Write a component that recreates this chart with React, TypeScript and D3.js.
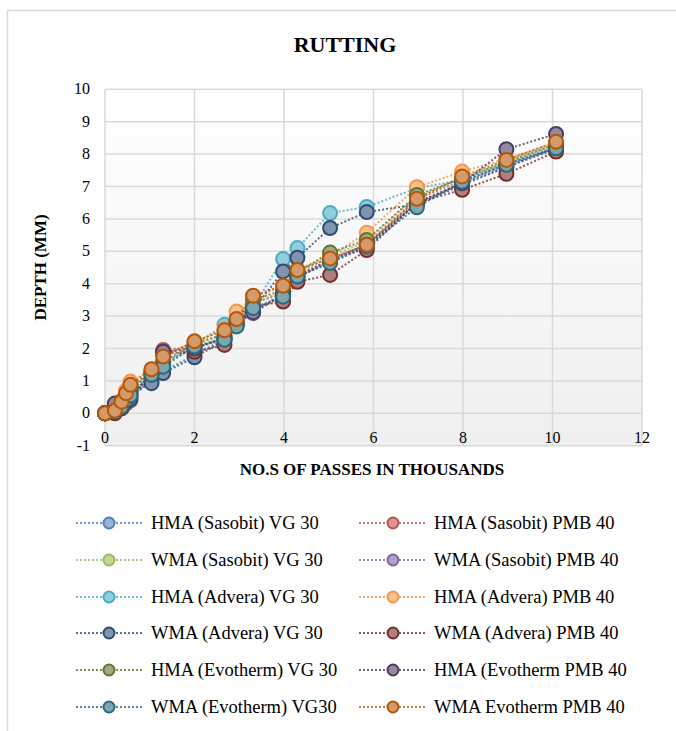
import React from "react";
import * as d3 from "d3";

const xValues = [0, 0.22, 0.37, 0.47, 0.57, 1.04, 1.3, 2, 2.67, 2.94, 3.31, 3.98, 4.3, 5.03, 5.85, 6.97, 7.98, 8.97, 10.08];

const seriesNames = [
  "HMA (Sasobit) VG 30",
  "HMA (Sasobit) PMB 40",
  "WMA (Sasobit) VG 30",
  "WMA (Sasobit) PMB 40",
  "HMA (Advera) VG 30",
  "HMA (Advera) PMB 40",
  "WMA (Advera) VG 30",
  "WMA (Advera) PMB 40",
  "HMA (Evotherm) VG 30",
  "HMA (Evotherm PMB 40",
  "WMA (Evotherm) VG30",
  "WMA Evotherm PMB 40",
];

const seriesColors = [
  "#4f81bd", "#c0504d", "#9bbb59", "#8064a2", "#4bacc6", "#f79646",
  "#2c4d75", "#772c2a", "#5f7530", "#4d3b62", "#276a7c", "#b65708",
];

const hmaSasobitVG30 = [0, 0.1, 0.25, 0.45, 0.65, 1.0, 1.3, 1.8, 2.3, 2.7, 3.2, 3.6, 4.2, 4.7, 5.15, 6.5, 7.1, 7.6, 8.15];
const hmaSasobitPMB40 = [0, 0.05, 0.3, 0.55, 0.8, 1.3, 1.95, 2.05, 2.3, 2.8, 3.4, 3.7, 4.2, 4.7, 5.2, 6.6, 7.2, 7.7, 8.2];
const wmaSasobitVG30 = [0, 0.1, 0.3, 0.5, 0.75, 1.25, 1.5, 2.1, 2.4, 2.8, 3.4, 3.75, 4.3, 4.85, 5.3, 6.7, 7.2, 7.8, 8.3];
const wmaSasobitPMB40 = [0, 0.25, 0.2, 0.3, 0.4, 1.1, 1.6, 2.0, 2.3, 2.75, 3.09, 3.65, 4.2, 4.7, 5.1, 6.5, 7.1, 7.7, 8.2];
const hmaAdveraVG30 = [0, 0.15, 0.3, 0.5, 0.7, 1.2, 1.5, 2.1, 2.73, 2.8, 3.3, 4.76, 5.1, 6.18, 6.37, 6.95, 7.2, 7.7, 8.25];
const hmaAdveraPMB40 = [0, 0.1, 0.4, 0.7, 0.98, 1.35, 1.8, 2.2, 2.6, 3.14, 3.6, 3.9, 4.45, 4.85, 5.57, 6.98, 7.46, 7.85, 8.35];
const wmaAdveraVG30 = [0, 0.2, 0.25, 0.4, 0.6, 0.93, 1.24, 1.73, 2.25, 2.75, 3.2, 4.38, 4.8, 5.72, 6.21, 6.45, 7.05, 7.6, 8.2];
const wmaAdveraPMB40 = [0, 0, 0.15, 0.35, 0.55, 1.2, 1.85, 1.9, 2.11, 2.75, 3.3, 3.45, 4.06, 4.27, 5.04, 6.5, 6.9, 7.39, 8.08];
const hmaEvothermVG30 = [0, 0.1, 0.25, 0.5, 0.7, 1.3, 1.6, 2.15, 2.45, 2.85, 3.5, 3.8, 4.35, 4.96, 5.35, 6.74, 7.25, 7.75, 8.3];
const hmaEvothermPMB40 = [0, 0.3, 0.3, 0.35, 0.45, 1.25, 1.9, 2.0, 2.35, 2.8, 3.12, 3.7, 4.25, 4.75, 5.2, 6.5, 7.1, 8.15, 8.62];
const wmaEvothermVG30 = [0, 0.05, 0.2, 0.4, 0.55, 1.19, 1.44, 2.06, 2.27, 2.68, 3.25, 3.6, 4.22, 4.64, 5.15, 6.36, 7.15, 7.67, 8.18];
const wmaEvothermPMB40 = [0, 0.08, 0.36, 0.62, 0.88, 1.36, 1.75, 2.22, 2.56, 2.91, 3.63, 3.94, 4.42, 4.78, 5.2, 6.62, 7.31, 7.82, 8.38];

const seriesValues = [
  hmaSasobitVG30, hmaSasobitPMB40, wmaSasobitVG30, wmaSasobitPMB40,
  hmaAdveraVG30, hmaAdveraPMB40, wmaAdveraVG30, wmaAdveraPMB40,
  hmaEvothermVG30, hmaEvothermPMB40, wmaEvothermVG30, wmaEvothermPMB40,
];

const xTicks = [0, 2, 4, 6, 8, 10, 12];
const yTicks = [-1, 0, 1, 2, 3, 4, 5, 6, 7, 8, 9, 10];

const FONT = "Liberation Serif, DejaVu Serif, serif";

export default function App() {
  const W = 676, H = 731;
  const left = 105, right = 642, top = 89.3, bottom = 445.7;
  const x = d3.scaleLinear().domain([0, 12]).range([left, right]);
  const y = d3.scaleLinear().domain([-1, 10]).range([bottom, top]);
  const line = d3.line<[number, number]>().x(d => x(d[0])).y(d => y(d[1]));

  const legendRows = [523, 560, 597, 633, 670, 707];
  const legendCols = [{ l0: 76, m: 109, l1: 142, t: 151 }, { l0: 359, m: 393, l1: 426, t: 434 }];

  const fillOf = (c: string) => d3.interpolateRgb(c, "#ffffff")(0.4);

  return (
    <svg width={W} height={H} style={{ position: "absolute", left: 0, top: 0, fontFamily: FONT }}>
      <defs>
        <linearGradient id="plotbg" x1="0" y1="0" x2="0" y2="1">
          <stop offset="0" stopColor="#ffffff" />
          <stop offset="1" stopColor="#efefef" />
        </linearGradient>
      </defs>
      <rect x={0} y={0} width={W} height={H} fill="#fff" />
      <rect x={7.5} y={10.5} width={700} height={760} fill="#fff" stroke="#d9d9d9" strokeWidth={1.5} />
      <text x={345} y={52} textAnchor="middle" fontSize={22} fontWeight="bold" fill="#000">RUTTING</text>

      <rect x={left} y={top} width={right - left} height={bottom - top} fill="url(#plotbg)" />
      {yTicks.map(t => (
        <line key={"gy" + t} x1={left} x2={right} y1={y(t)} y2={y(t)} stroke="#d9d9d9" strokeWidth={1.5} />
      ))}
      {xTicks.map(t => (
        <line key={"gx" + t} x1={x(t)} x2={x(t)} y1={top} y2={bottom} stroke="#d9d9d9" strokeWidth={1.5} />
      ))}
      {yTicks.map(t => (
        <text key={"ty" + t} x={90} y={y(t) + 5} textAnchor="end" fontSize={16} fill="#000">{t}</text>
      ))}
      {xTicks.map(t => (
        <text key={"tx" + t} x={x(t)} y={443} textAnchor="middle" fontSize={16} fill="#000">{t}</text>
      ))}
      <text x={372} y={475} textAnchor="middle" fontSize={17} fontWeight="bold" fill="#000">NO.S OF PASSES IN THOUSANDS</text>
      <text transform={`translate(46,${(top + bottom) / 2}) rotate(-90)`} textAnchor="middle" fontSize={17} fontWeight="bold" fill="#000">DEPTH (MM)</text>

      {seriesValues.map((vals, i) => {
        const pts = vals.map((v, j) => [xValues[j], v] as [number, number]);
        return (
          <g key={"s" + i}>
            <path d={line(pts) || ""} fill="none" stroke={seriesColors[i]} strokeOpacity={0.8} strokeWidth={2} strokeDasharray="2 2" />
            {pts.map((p, j) => (
              <circle key={j} cx={x(p[0])} cy={y(p[1])} r={7} fill={fillOf(seriesColors[i])} stroke={seriesColors[i]} strokeWidth={2} />
            ))}
          </g>
        );
      })}

      {seriesNames.map((name, i) => {
        const col = legendCols[i % 2];
        const ry = legendRows[Math.floor(i / 2)];
        const c = seriesColors[i];
        return (
          <g key={"lg" + i}>
            <line x1={col.l0} x2={col.l1} y1={ry} y2={ry} stroke={c} strokeOpacity={0.8} strokeWidth={2} strokeDasharray="2 2" />
            <circle cx={col.m} cy={ry} r={5.5} fill={fillOf(c)} stroke={c} strokeWidth={2} />
            <text x={col.t} y={ry + 6} fontSize={18.5} fill="#000">{name}</text>
          </g>
        );
      })}
    </svg>
  );
}
